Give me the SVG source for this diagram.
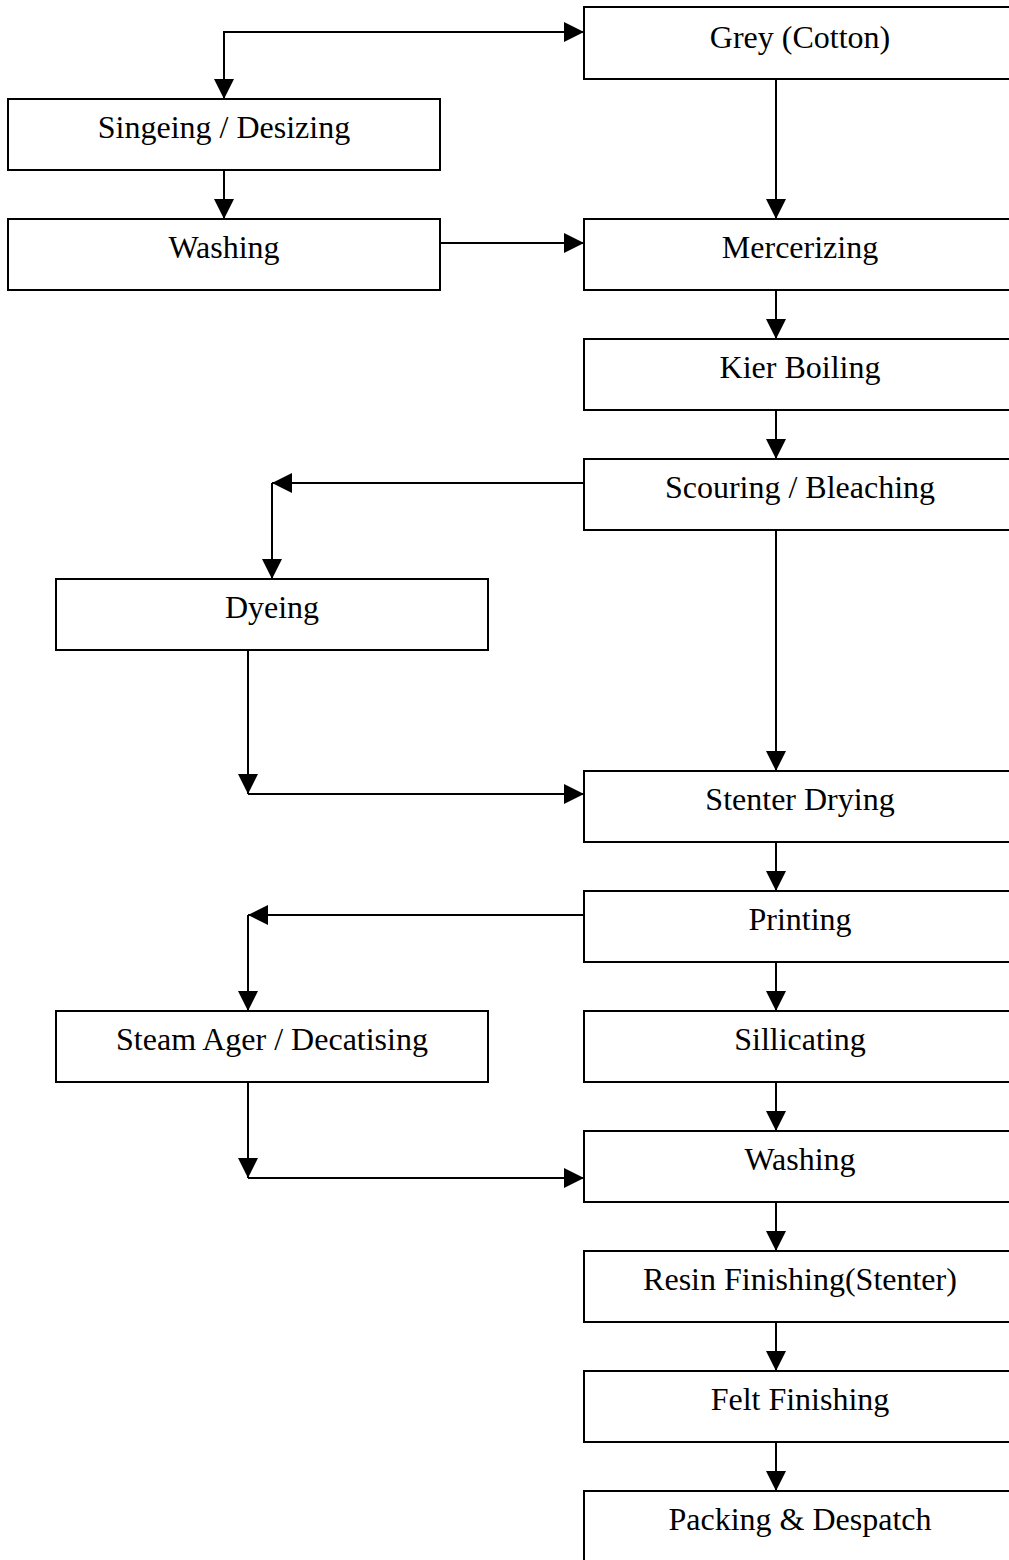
<svg xmlns="http://www.w3.org/2000/svg" width="1009" height="1560" viewBox="0 0 1009 1560">
<defs>
<style>
.box{fill:#fff;stroke:#000;stroke-width:2}
.lbl{font-family:"Liberation Serif","Times New Roman",serif;font-size:32px;text-anchor:middle;fill:#000}
.ln{fill:none;stroke:#000;stroke-width:2}
</style>
<marker id="ah" viewBox="0 0 20 20" refX="20" refY="10" markerWidth="20" markerHeight="20" markerUnits="userSpaceOnUse" orient="auto">
<path d="M0,0 L20,10 L0,20 Z" fill="#000"/>
</marker>
</defs>
<rect width="1009" height="1560" fill="#fff"/>
<g id="connectors">
<path class="ln" d="M584,32 H224 V99" marker-end="url(#ah)"/>
<path class="ln" d="M224,32 H584" marker-end="url(#ah)"/>
<path class="ln" d="M224,170 V219" marker-end="url(#ah)"/>
<path class="ln" d="M440,243 H584" marker-end="url(#ah)"/>
<path class="ln" d="M776,79 V219" marker-end="url(#ah)"/>
<path class="ln" d="M776,290 V339" marker-end="url(#ah)"/>
<path class="ln" d="M776,410 V459" marker-end="url(#ah)"/>
<path class="ln" d="M584,483 H272" marker-end="url(#ah)"/>
<path class="ln" d="M272,483 V579" marker-end="url(#ah)"/>
<path class="ln" d="M248,650 V794" marker-end="url(#ah)"/>
<path class="ln" d="M248,794 H584" marker-end="url(#ah)"/>
<path class="ln" d="M776,530 V771" marker-end="url(#ah)"/>
<path class="ln" d="M776,842 V891" marker-end="url(#ah)"/>
<path class="ln" d="M584,915 H248" marker-end="url(#ah)"/>
<path class="ln" d="M248,915 V1011" marker-end="url(#ah)"/>
<path class="ln" d="M776,962 V1011" marker-end="url(#ah)"/>
<path class="ln" d="M776,1082 V1131" marker-end="url(#ah)"/>
<path class="ln" d="M248,1082 V1178" marker-end="url(#ah)"/>
<path class="ln" d="M248,1178 H584" marker-end="url(#ah)"/>
<path class="ln" d="M776,1202 V1251" marker-end="url(#ah)"/>
<path class="ln" d="M776,1322 V1371" marker-end="url(#ah)"/>
<path class="ln" d="M776,1442 V1491" marker-end="url(#ah)"/>
</g>
<g id="grey"><rect class="box" x="584" y="7" width="432" height="72"/><text class="lbl" x="800" y="48">Grey (Cotton)</text></g>
<g id="singeing"><rect class="box" x="8" y="99" width="432" height="71"/><text class="lbl" x="224" y="138">Singeing / Desizing</text></g>
<g id="washing1"><rect class="box" x="8" y="219" width="432" height="71"/><text class="lbl" x="224" y="258">Washing</text></g>
<g id="mercerizing"><rect class="box" x="584" y="219" width="432" height="71"/><text class="lbl" x="800" y="258">Mercerizing</text></g>
<g id="kier"><rect class="box" x="584" y="339" width="432" height="71"/><text class="lbl" x="800" y="378">Kier Boiling</text></g>
<g id="scouring"><rect class="box" x="584" y="459" width="432" height="71"/><text class="lbl" x="800" y="498">Scouring / Bleaching</text></g>
<g id="dyeing"><rect class="box" x="56" y="579" width="432" height="71"/><text class="lbl" x="272" y="618">Dyeing</text></g>
<g id="stenter"><rect class="box" x="584" y="771" width="432" height="71"/><text class="lbl" x="800" y="810">Stenter Drying</text></g>
<g id="printing"><rect class="box" x="584" y="891" width="432" height="71"/><text class="lbl" x="800" y="930">Printing</text></g>
<g id="steam"><rect class="box" x="56" y="1011" width="432" height="71"/><text class="lbl" x="272" y="1050">Steam Ager / Decatising</text></g>
<g id="sillicating"><rect class="box" x="584" y="1011" width="432" height="71"/><text class="lbl" x="800" y="1050">Sillicating</text></g>
<g id="washing2"><rect class="box" x="584" y="1131" width="432" height="71"/><text class="lbl" x="800" y="1170">Washing</text></g>
<g id="resin"><rect class="box" x="584" y="1251" width="432" height="71"/><text class="lbl" x="800" y="1290">Resin Finishing(Stenter)</text></g>
<g id="felt"><rect class="box" x="584" y="1371" width="432" height="71"/><text class="lbl" x="800" y="1410">Felt Finishing</text></g>
<g id="packing"><rect class="box" x="584" y="1491" width="432" height="80"/><text class="lbl" x="800" y="1530">Packing &amp; Despatch</text></g>
</svg>
